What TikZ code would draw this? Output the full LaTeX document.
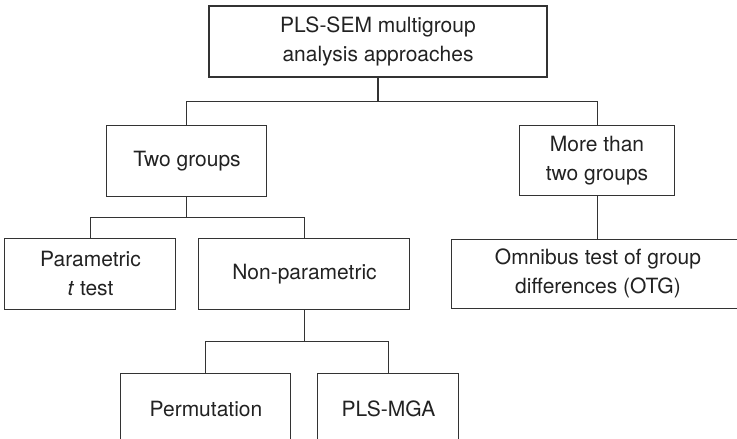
\documentclass[tikz,border=0pt]{standalone}
\usepackage{fontspec}
\setmainfont{TeX Gyre Heros}
\usetikzlibrary{positioning,calc}
\definecolor{lineGray}{HTML}{333333}
\definecolor{textGray}{HTML}{222222}

\begin{document}
\begin{tikzpicture}[
    x=1pt, y=1pt,
    node distance=41pt,
    box/.style={draw=lineGray, line width=1pt, minimum height=71pt, inner sep=0pt,
                align=center, text=textGray, font=\fontsize{21}{29}\selectfont},
    link/.style={draw=lineGray, line width=1pt},
    rootlink/.style={draw=lineGray, line width=1.8pt}
  ]
    \useasboundingbox (-378,41.5) rectangle (359,-397.5);
    \clip (-378,41.5) rectangle (359,-397.5);

    \node[box, minimum width=338pt, line width=1.7pt] (root) at (0,0)
      {PLS-SEM multigroup\\analysis approaches};

    % Second level
    \node[box, minimum width=160pt, below=47pt of root, xshift=-191pt] (two) {Two groups};
    \node[box, minimum width=154pt, minimum height=70pt, below=47pt of root, xshift=219pt] (more)
      {More than\\two groups};

    % Third level
    \node[box, minimum width=171pt, below=of two, xshift=-96.5pt] (param)
      {Parametric\\\textit{t} test};
    \node[box, minimum width=211pt, below=of two, xshift=117.5pt] (nonpar) {Non-parametric};
    \node[box, minimum width=292pt, minimum height=69pt, below=43pt of more, xshift=1pt] (otg)
      {Omnibus test of group\\differences (OTG)};

    % Fourth level
    \node[box, minimum width=170pt, below=63pt of nonpar, xshift=-98.5pt] (perm) {Permutation};
    \node[box, minimum width=141pt, below=63pt of nonpar, xshift=84pt] (mga) {PLS-MGA};

    % Connectors
    \coordinate (j1) at ($(root.south)!0.5!(root.south |- two.north)$);
    \coordinate (j2) at ($(two.south)!0.5!(two.south |- param.north)$);
    \coordinate (j3) at ($(nonpar.south)!0.5!(nonpar.south |- perm.north)$);

    \draw[rootlink] (root.south) -- (j1);
    \draw[link] (two.north) |- (j1) -| (more.north);
    \draw[link] (two.south) -- (j2);
    \draw[link] (param.north) |- (j2) -| (nonpar.north);
    \draw[link] (more.south) -- (more.south |- otg.north);
    \draw[link] (nonpar.south) -- (j3);
    \draw[link] (perm.north) |- (j3) -| (mga.north);
  \end{tikzpicture}
\end{document}
